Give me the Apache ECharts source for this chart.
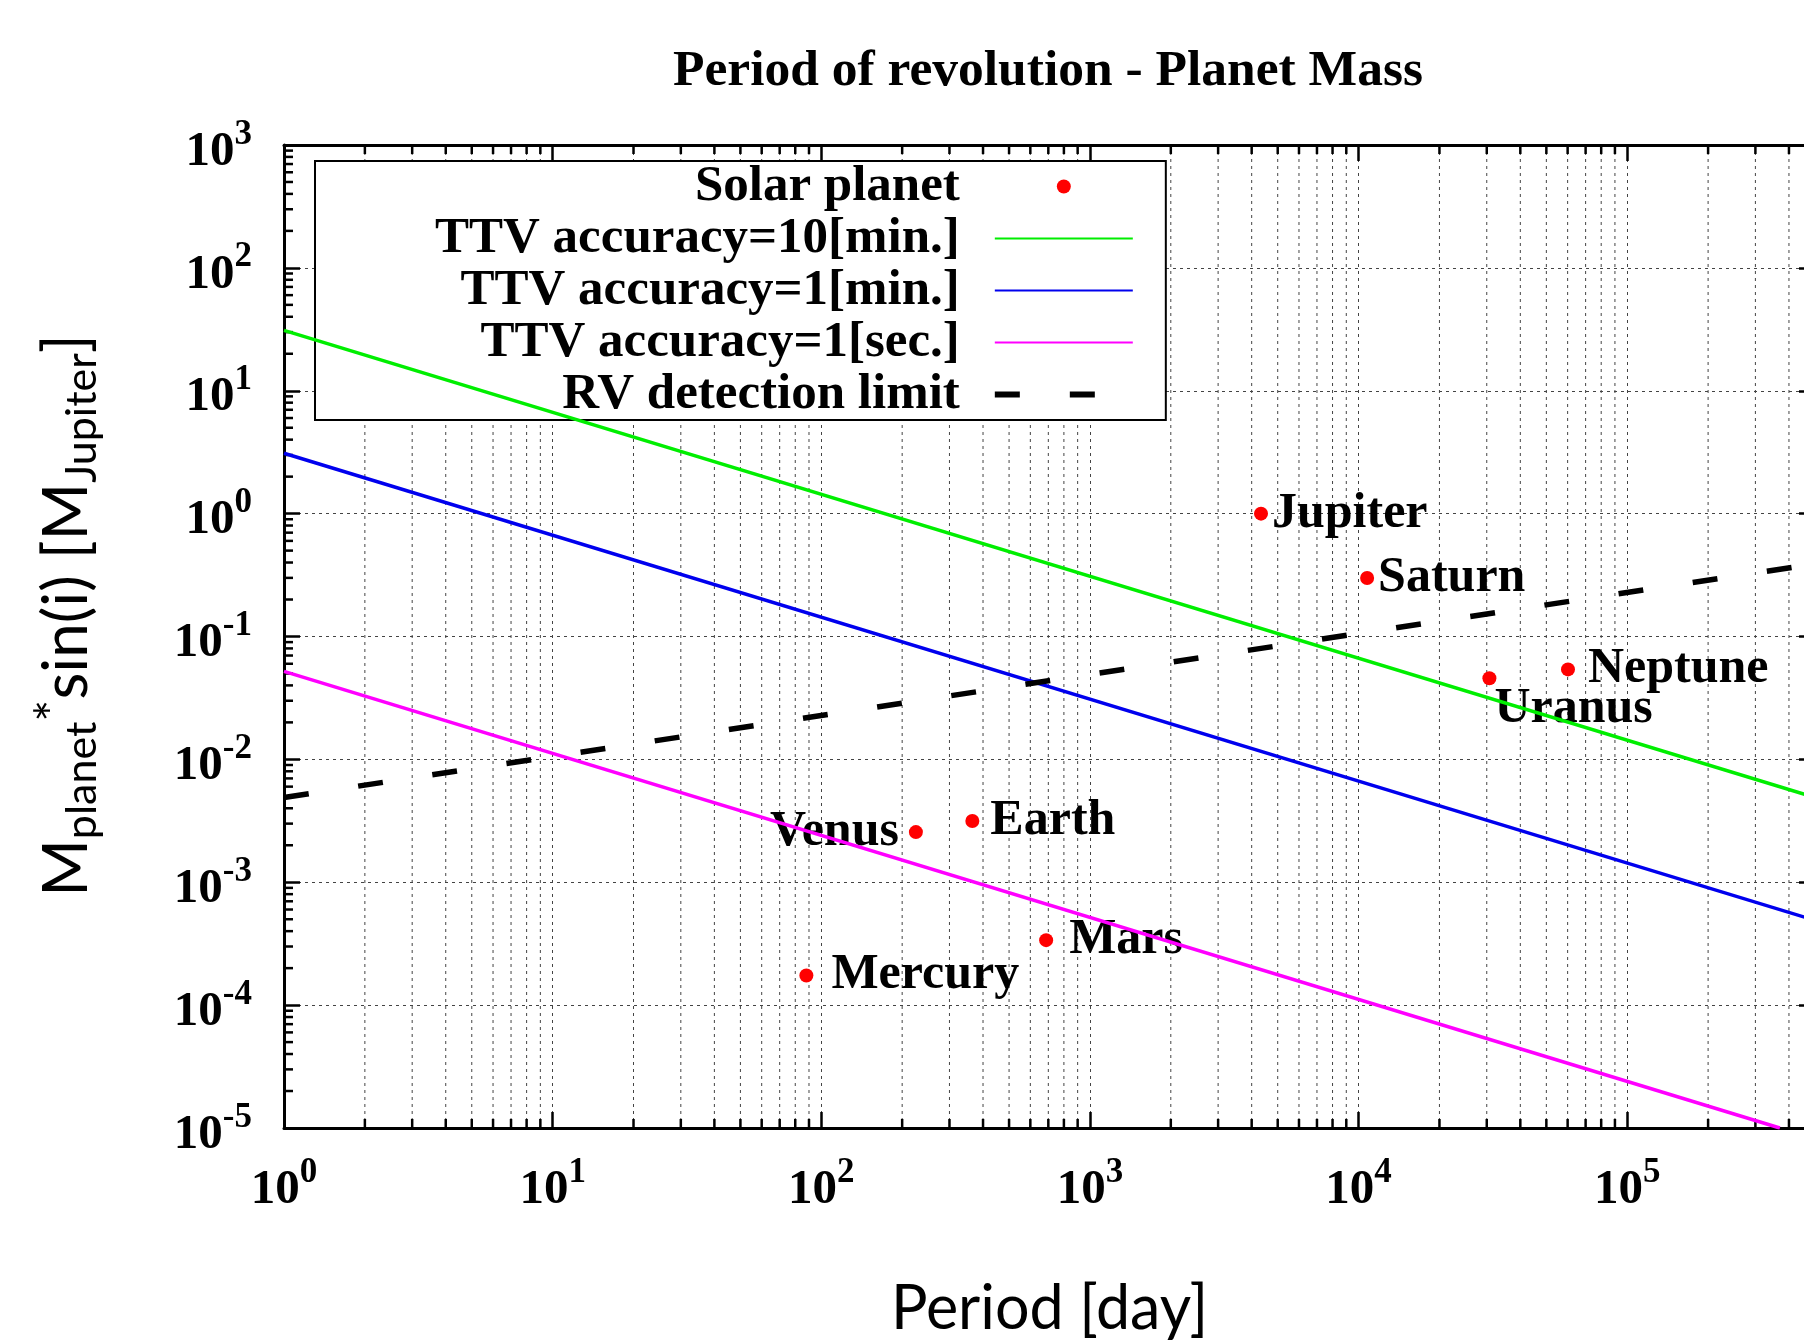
<!DOCTYPE html>
<html>
<head>
<meta charset="utf-8">
<script src="https://cdn.jsdelivr.net/npm/echarts@6.0.0/dist/echarts.min.js"></script>
<style>
html, body { margin: 0; padding: 0; background: #fff; overflow: hidden; }
#chart { width: 1804px; height: 1340px; }
</style>
</head>
<body>
<div id="chart"></div>
<script>
// solar planets: orbital period [day] and mass [M_Jupiter]
var planetNames = ['Mercury', 'Venus', 'Earth', 'Mars', 'Jupiter', 'Saturn', 'Uranus', 'Neptune'];
var planetPeriods = [88, 225, 365, 687, 4333, 10759, 30687, 60190];
var planetMasses = [1.74e-4, 2.56e-3, 3.15e-3, 3.38e-4, 1.0, 0.299, 0.0457, 0.054];

// limit lines (straight on log-log), read at the frame edges
var ttv10min = [[1, 31], [5e5, 0.0049]];
var ttv1min = [[1, 3.1], [5e5, 0.00049]];
var ttv1sec = [[1, 0.052], [3.7e5, 1e-5]];
var rvLimit = [[1, 0.0049], [5e5, 0.39]];

var seriesNames = ['Solar planet', 'TTV accuracy=10[min.]', 'TTV accuracy=1[min.]', 'TTV accuracy=1[sec.]', 'RV detection limit'];
var titleText = 'Period of revolution - Planet Mass';

var xMin = 1, xMax = 5e5, yMin = 1e-5, yMax = 1e3;

// minor tick positions 2..9 x 10^k
var xMinor = [], yMinor = [];
for (var k = 0; k <= 5; k++) for (var m = 2; m <= 9; m++) { if (m * Math.pow(10, k) < xMax) xMinor.push(m * Math.pow(10, k)); }
for (var k2 = -5; k2 <= 2; k2++) for (var m2 = 2; m2 <= 9; m2++) yMinor.push(m2 * Math.pow(10, k2));

var SERIF = 'Liberation Serif';
var SANS = 'Lato';

var labelPlace = {
  Mercury: { position: 'right', distance: 18 },
  Venus: { position: 'left', distance: 10 },
  Earth: { position: 'right', distance: 11 },
  Mars: { position: 'right', distance: 16 },
  Jupiter: { position: 'right', distance: 4 },
  Saturn: { position: 'right', distance: 4 },
  Uranus: { position: 'right', distance: 4, offset: [-6, 31] },
  Neptune: { position: 'right', distance: 13 }
};

var powRich = {
  b: { fontFamily: SERIF, fontWeight: 'bold', fontSize: 49, lineHeight: 70, color: '#000' },
  s: { fontFamily: SERIF, fontWeight: 'bold', fontSize: 35, lineHeight: 35, verticalAlign: 'top', color: '#000' }
};
function powLabel(v) {
  return '{b|10}{s|' + Math.round(Math.log10(v)) + '}';
}

var gridLine = { color: '#444', width: 1, type: [3, 4] };
var frameLine = { color: '#000', width: 3 };
var tickLine = { color: '#000', width: 2.5 };
var hideDot = { opacity: 0 };

var myChart = echarts.init(document.getElementById('chart'));

var option = {
  backgroundColor: '#fff',
  animation: false,
  title: {
    text: titleText, left: 1048, top: 46, textAlign: 'center', padding: 0,
    textStyle: { fontFamily: SERIF, fontWeight: 'bold', fontSize: 51.5, color: '#000' }
  },
  legend: {
    orient: 'vertical', align: 'right', left: 315, top: 161,
    selectedMode: false,
    backgroundColor: '#fff', borderColor: '#000', borderWidth: 2,
    padding: [0, 30, 0, 120],
    itemWidth: 138, itemHeight: 14, itemGap: 1,
    textStyle: { fontFamily: SERIF, fontWeight: 'bold', fontSize: 51, color: '#000', padding: [0, 30, 0, 0] },
    data: [
      { name: seriesNames[0], icon: 'circle', itemStyle: { opacity: 1 } },
      { name: seriesNames[1], itemStyle: hideDot },
      { name: seriesNames[2], itemStyle: hideDot },
      { name: seriesNames[3], itemStyle: hideDot },
      { name: seriesNames[4], itemStyle: hideDot, lineStyle: { type: [25, 50], width: 6 } }
    ]
  },
  grid: { left: 284, top: 145, width: 1531, height: 983, outerBoundsMode: 'none', containLabel: false },
  xAxis: [{
    type: 'log', logBase: 10, min: xMin, max: xMax,
    axisLine: { lineStyle: frameLine },
    axisTick: { inside: true, length: 16, lineStyle: tickLine },
    axisLabel: { margin: 27, formatter: powLabel, rich: powRich, showMaxLabel: false },
    splitLine: { show: true, lineStyle: gridLine },
    name: 'Period [day]', nameLocation: 'middle', nameGap: 146,
    nameTextStyle: { fontFamily: SANS, fontSize: 61, lineHeight: 70, color: '#000' }
  }, {
    type: 'log', logBase: 10, min: xMin, max: xMax, position: 'top',
    axisLine: { lineStyle: frameLine },
    axisTick: { inside: true, length: 16, lineStyle: tickLine },
    axisLabel: { show: false }, splitLine: { show: false }
  }],
  yAxis: [{
    type: 'log', logBase: 10, min: yMin, max: yMax,
    axisLine: { lineStyle: frameLine },
    axisTick: { inside: true, length: 16, lineStyle: tickLine },
    axisLabel: { margin: 32, formatter: powLabel, rich: powRich, padding: [14, 0, 0, 0] },
    splitLine: { show: true, lineStyle: gridLine },
    name: '{m|M}{sub|planet}{sup|*}{m|sin(i) [M}{sub|Jupiter}{m|]}',
    nameLocation: 'middle', nameGap: 180, nameRotate: 90,
    nameTextStyle: {
      padding: [0, 0, 0, 42],
      rich: {
        m: { fontFamily: SANS, fontSize: 62, lineHeight: 74, color: '#000' },
        sub: { fontFamily: SANS, fontSize: 43, lineHeight: 56, verticalAlign: 'bottom', color: '#000' },
        sup: { fontFamily: SANS, fontSize: 52, lineHeight: 50, verticalAlign: 'top', color: '#000' }
      }
    }
  }, {
    type: 'log', logBase: 10, min: yMin, max: yMax, position: 'right',
    axisLine: { lineStyle: frameLine },
    axisTick: { inside: true, length: 16, lineStyle: tickLine },
    axisLabel: { show: false }, splitLine: { show: false }
  }],
  series: [
    {
      // minor x grid lines and ticks on bottom/top
      type: 'custom', silent: true, z: 1,
      data: xMinor.map(function (v) { return [v, yMin]; }),
      encode: { x: 0, y: 1 },
      renderItem: function (params, api) {
        var cs = params.coordSys;
        var px = api.coord([api.value(0), yMin])[0];
        var top = cs.y, bot = cs.y + cs.height;
        return { type: 'group', children: [
          { type: 'line', shape: { x1: px, y1: top, x2: px, y2: bot }, style: { stroke: '#444', lineWidth: 1, lineDash: [3, 4] } },
          { type: 'line', shape: { x1: px, y1: bot, x2: px, y2: bot - 9 }, style: { stroke: '#000', lineWidth: 2.5 } },
          { type: 'line', shape: { x1: px, y1: top, x2: px, y2: top + 9 }, style: { stroke: '#000', lineWidth: 2.5 } }
        ] };
      }
    },
    {
      // minor y ticks on left/right
      type: 'custom', silent: true, z: 1,
      data: yMinor.map(function (v) { return [xMin, v]; }),
      encode: { x: 0, y: 1 },
      renderItem: function (params, api) {
        var cs = params.coordSys;
        var py = api.coord([xMin, api.value(1)])[1];
        var l = cs.x, r = cs.x + cs.width;
        return { type: 'group', children: [
          { type: 'line', shape: { x1: l, y1: py, x2: l + 9, y2: py }, style: { stroke: '#000', lineWidth: 2.5 } },
          { type: 'line', shape: { x1: r, y1: py, x2: r - 9, y2: py }, style: { stroke: '#000', lineWidth: 2.5 } }
        ] };
      }
    },
    {
      name: seriesNames[0], type: 'scatter', z: 2,
      symbol: 'circle', symbolSize: 14,
      itemStyle: { color: '#ff0000', opacity: 1 },
      data: planetNames.map(function (n, i) {
        var p = labelPlace[n];
        return {
          name: n, value: [planetPeriods[i], planetMasses[i]],
          label: { show: true, formatter: n, position: p.position, distance: p.distance, offset: p.offset || [0, 0],
            fontFamily: SERIF, fontWeight: 'bold', fontSize: 50, color: '#000', opacity: 1 }
        };
      })
    },
    {
      name: seriesNames[1], type: 'line', z: 5, symbol: 'none',
      lineStyle: { color: '#00ee00', width: 3.5 }, itemStyle: { color: '#00ee00' },
      data: ttv10min
    },
    {
      name: seriesNames[2], type: 'line', z: 3, symbol: 'none',
      lineStyle: { color: '#0000ee', width: 3.5 }, itemStyle: { color: '#0000ee' },
      data: ttv1min
    },
    {
      name: seriesNames[3], type: 'line', z: 3, symbol: 'none',
      lineStyle: { color: '#ff00ff', width: 3.5 }, itemStyle: { color: '#ff00ff' },
      data: ttv1sec
    },
    {
      name: seriesNames[4], type: 'line', z: 3, symbol: 'none',
      lineStyle: { color: '#000', width: 5.5, type: [25, 50] }, itemStyle: { color: '#000' },
      data: rvLimit
    }
  ]
};

myChart.setOption(option);
</script>
</body>
</html>
